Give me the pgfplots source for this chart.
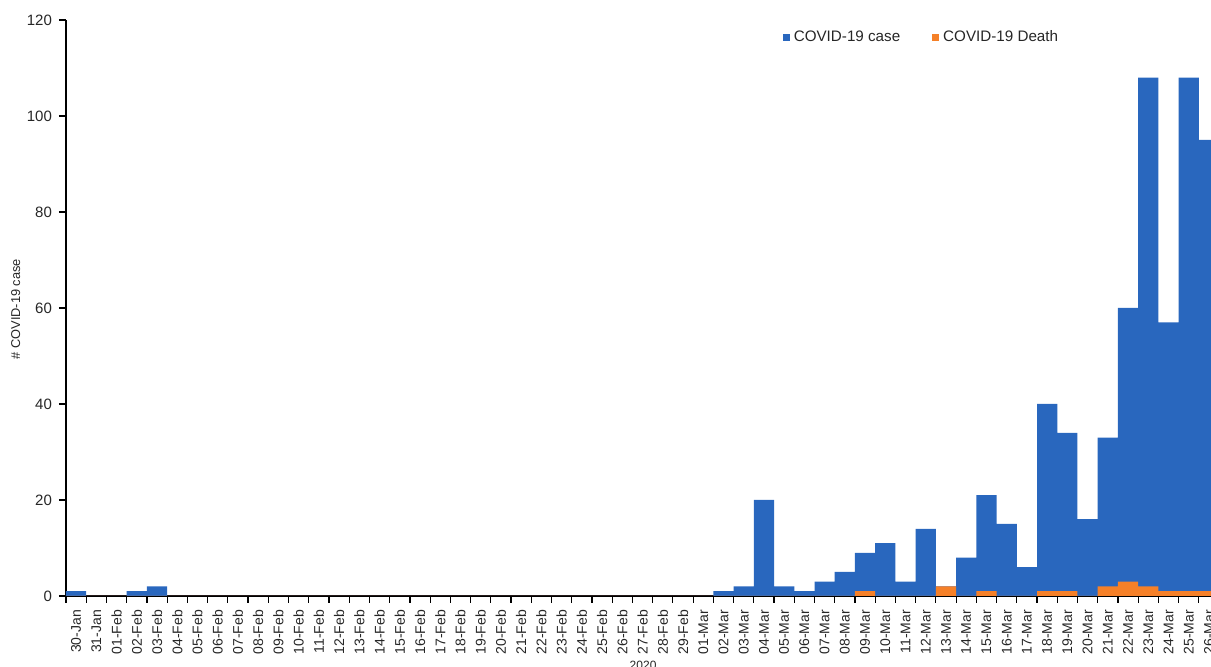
\documentclass[border=0pt]{standalone}
\usepackage{pgfplots}
\pgfplotsset{compat=1.18}
\usepackage{pgfplotstable}
\usepackage{fontspec}
\setmainfont{Liberation Sans}

\definecolor{caseblue}{RGB}{41,103,190}
\definecolor{deathorange}{RGB}{245,128,40}

% idx 0 = 30-Jan ... idx 56 = 26-Mar
\pgfplotstableread{
idx case death
0 1 0
1 0 0
2 0 0
3 1 0
4 2 0
5 0 0
6 0 0
7 0 0
8 0 0
9 0 0
10 0 0
11 0 0
12 0 0
13 0 0
14 0 0
15 0 0
16 0 0
17 0 0
18 0 0
19 0 0
20 0 0
21 0 0
22 0 0
23 0 0
24 0 0
25 0 0
26 0 0
27 0 0
28 0 0
29 0 0
30 0 0
31 0 0
32 1 0
33 2 0
34 20 0
35 2 0
36 1 0
37 3 0
38 5 0
39 9 1
40 11 0
41 3 0
42 14 0
43 2 2
44 8 0
45 21 1
46 15 0
47 6 0
48 40 1
49 34 1
50 16 0
51 33 2
52 60 3
53 108 2
54 57 1
55 108 1
56 95 1
}\covid

\begin{document}
\begin{tikzpicture}
\begin{axis}[
  scale only axis,
  width=572.5pt, height=288pt,
  xmin=-0.5, xmax=56.1,
  ymin=0, ymax=120,
  ytick={0,20,...,120},
  axis lines*=left,
  axis line style={black, line width=0.6pt},
  tick align=outside,
  major tick length=3.5pt,
  minor tick length=3.5pt,
  xtick={0,...,56},
  xticklabels={30-Jan,31-Jan,01-Feb,02-Feb,03-Feb,04-Feb,05-Feb,06-Feb,07-Feb,08-Feb,09-Feb,10-Feb,11-Feb,12-Feb,13-Feb,14-Feb,15-Feb,16-Feb,17-Feb,18-Feb,19-Feb,20-Feb,21-Feb,22-Feb,23-Feb,24-Feb,25-Feb,26-Feb,27-Feb,28-Feb,29-Feb,01-Mar,02-Mar,03-Mar,04-Mar,05-Mar,06-Mar,07-Mar,08-Mar,09-Mar,10-Mar,11-Mar,12-Mar,13-Mar,14-Mar,15-Mar,16-Mar,17-Mar,18-Mar,19-Mar,20-Mar,21-Mar,22-Mar,23-Mar,24-Mar,25-Mar,26-Mar},
  minor xtick={-0.5,0.5,...,55.5},
  major x tick style={draw=none},
  minor x tick style={black, line width=0.6pt},
  y tick style={black, line width=0.6pt},
  xticklabel style={rotate=90, anchor=east, font=\fontsize{7}{8}\selectfont, text=black!85},
  yticklabel style={font=\fontsize{7.5}{8}\selectfont, text=black!85},
  /pgf/number format/assume math mode=true,
  xlabel={2020},
  xlabel style={at={(axis description cs:0.504,-0.101)}, anchor=north, font=\fontsize{6}{7}\selectfont, text=black!85},
  ylabel={\# COVID-19 case},
  ylabel style={at={(axis description cs:-0.044,0.498)}, anchor=center, rotate=0, font=\fontsize{6.4}{7}\selectfont, text=black!85},
  ybar, bar width=1, bar shift=0pt,
  legend columns=2,
  legend style={draw=none, fill=none, at={(0.748,0.969)}, anchor=center,
    font=\fontsize{7.6}{9}\selectfont, text=black!85,
    /tikz/every even column/.append style={column sep=14pt}},
  legend image code/.code={\fill[#1, draw=none] (0pt,-1.75pt) rectangle (3.5pt,1.75pt);},
]
\addplot[fill=caseblue, draw=none] table[x=idx, y=case] {\covid};
\addlegendentry{COVID-19 case}
\addplot[fill=deathorange, draw=none] table[x=idx, y=death] {\covid};
\addlegendentry{COVID-19 Death}
\end{axis}
\pgfresetboundingbox
\path ([xshift=-33pt, yshift=-35.5pt]current axis.south west) rectangle ([yshift=10pt]current axis.north east);
\end{tikzpicture}
\end{document}
